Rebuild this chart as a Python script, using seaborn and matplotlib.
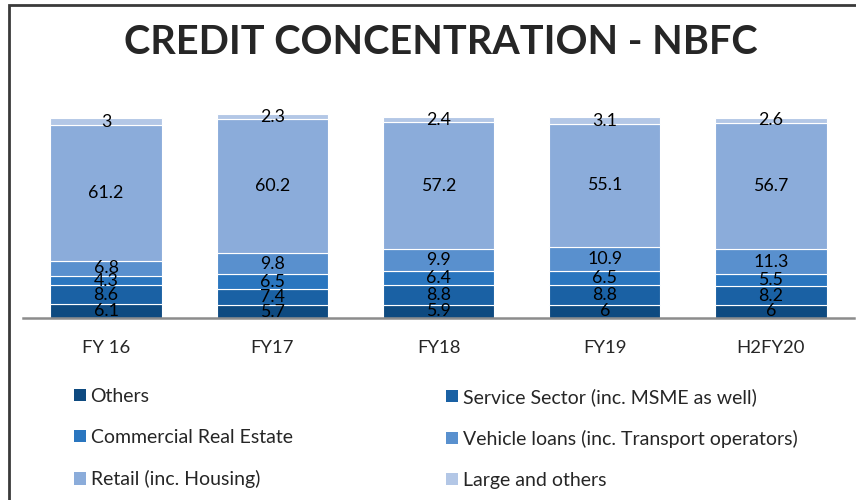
import seaborn as sns
import matplotlib.pyplot as plt
import pandas as pd
import numpy as np
from matplotlib.patches import Patch, Rectangle

# data
years = ['FY 16', 'FY17', 'FY18', 'FY19', 'H2FY20']
others = [6.1, 5.7, 5.9, 6, 6]
service = [8.6, 7.4, 8.8, 8.8, 8.2]
cre = [4.3, 6.5, 6.4, 6.5, 5.5]
vehicle = [6.8, 9.8, 9.9, 10.9, 11.3]
retail = [61.2, 60.2, 57.2, 55.1, 56.7]
large = [3, 2.3, 2.4, 3.1, 2.6]

series_names = ['Others', 'Service Sector (inc. MSME as well)', 'Commercial Real Estate',
                'Vehicle loans (inc. Transport operators)', 'Retail (inc. Housing)', 'Large and others']
series_vals = [others, service, cre, vehicle, retail, large]
colors = ['#0E4A80', '#1A61A4', '#2A76BF', '#5990CE', '#8BACDA', '#B3C7E6']

sns.set_style('white')
plt.rcParams['font.family'] = ['Lato', 'DejaVu Sans']

fig = plt.figure(figsize=(8.56, 5.0), dpi=100)
ax = fig.add_axes([23 / 856, 182 / 500, 831 / 856, 222 / 500])

bottom = np.zeros(len(years))
for name, vals, col in zip(series_names, series_vals, colors):
    df = pd.DataFrame({'year': years, 'val': vals})
    sns.barplot(data=df, x='year', y='val', color=col, bottom=bottom, width=0.67,
                edgecolor='white', linewidth=0.8, saturation=1, ax=ax)
    bottom = bottom + np.array(vals)

for cont, vals in zip(ax.containers, series_vals):
    ax.bar_label(cont, labels=['%g' % v for v in vals], label_type='center',
                 fontsize=12.8, color='black')

ax.set_ylim(0, 100)
ax.set_xlim(-0.5, 4.5)
ax.set_xlabel('')
ax.set_ylabel('')
ax.set_yticks([])
for s in ['top', 'right', 'left']:
    ax.spines[s].set_visible(False)
ax.spines['bottom'].set_color('#8c8c8c')
ax.spines['bottom'].set_linewidth(1.8)
ax.tick_params(axis='x', length=0, pad=16, labelsize=13.3)

fig.text(0.515, 0.915, 'CREDIT CONCENTRATION - NBFC', ha='center', va='center',
         fontsize=28.5, fontweight='bold')

# legend in two columns
handles = [Patch(facecolor=c, edgecolor='none') for c in colors]
leg_kw = dict(loc='upper left', frameon=False, fontsize=14, handlelength=0.62,
              handleheight=0.62, handletextpad=0.25, labelspacing=1.24, borderaxespad=0)
fig.legend([handles[0], handles[2], handles[4]],
           [series_names[0], series_names[2], series_names[4]],
           bbox_to_anchor=(0.077, 0.24), **leg_kw)
fig.legend([handles[1], handles[3], handles[5]],
           [series_names[1], series_names[3], series_names[5]],
           bbox_to_anchor=(0.512, 0.24), **leg_kw)

# outer frame (only left and top edges visible)
fig.patches.append(Rectangle((9 / 856, -0.1), 1.2, 1.1 - 5 / 500, transform=fig.transFigure,
                             fill=False, edgecolor='#3a3a3a', linewidth=2))

plt.savefig('out.png', dpi=100)
